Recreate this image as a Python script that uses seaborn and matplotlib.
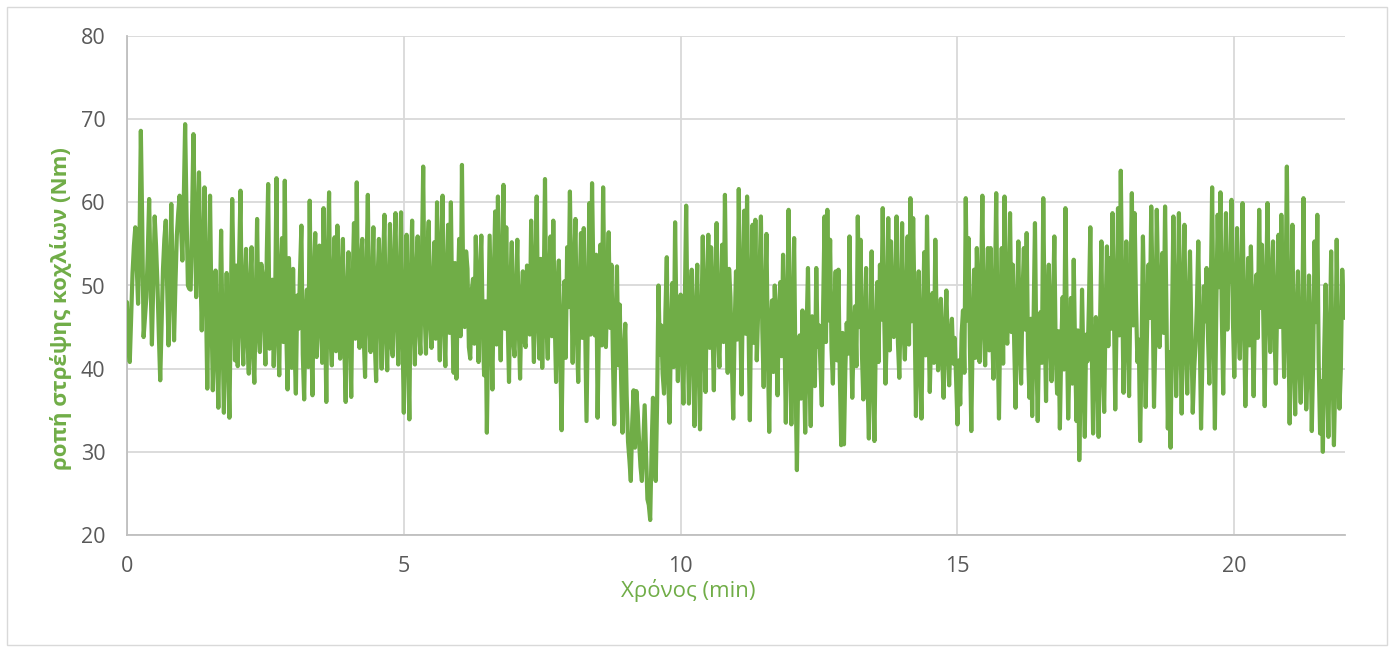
import numpy as np
import pandas as pd
import matplotlib
matplotlib.use("Agg")
import matplotlib.pyplot as plt
from matplotlib.patches import Rectangle
import seaborn as sns

# Screw torque log. Each minute holds 20 readings on the 3 s grid and
# 20 readings taken half-way between them (1.5 s offset).
torque_min00 = [48.0, 40.8, 51.5, 57.0, 47.8, 68.6, 43.8, 48.6, 60.4, 42.9,
                58.3, 50.2, 38.6, 52.0, 57.8, 42.8, 59.8, 43.4, 56.0, 60.8]
torque_mid00 = [42.5, 46.0, 54.8, 52.3, 55.0, 57.5, 46.2, 53.9, 51.0, 50.3,
                54.7, 44.1, 45.3, 55.6, 49.9, 51.4, 51.0, 50.2, 58.7, 57.4]
torque_min01 = [53.0, 69.4, 50.0, 49.5, 68.2, 48.6, 63.6, 44.6, 61.8, 37.6,
                60.8, 37.4, 51.8, 35.3, 56.6, 34.7, 51.5, 34.1, 60.4, 41.0]
torque_mid01 = [60.2, 58.8, 49.6, 58.1, 57.9, 55.4, 52.7, 53.5, 48.9, 49.5,
                47.2, 44.6, 42.0, 46.0, 44.3, 43.5, 41.9, 47.6, 51.2, 52.4]
torque_min02 = [40.3, 61.4, 40.5, 54.4, 39.4, 54.6, 38.3, 58.0, 42.0, 51.3,
                40.5, 62.2, 45.8, 40.3, 62.9, 39.2, 55.7, 62.6, 37.5, 47.0]
torque_mid02 = [52.8, 45.1, 49.7, 43.6, 50.2, 41.9, 47.5, 44.8, 52.6, 46.0,
                53.9, 42.4, 50.7, 47.9, 44.6, 51.5, 43.2, 45.0, 53.3, 40.1]
torque_min03 = [52.0, 37.0, 44.8, 57.2, 36.3, 49.5, 60.2, 36.8, 56.3, 44.6,
                52.1, 59.3, 36.0, 61.2, 40.4, 55.8, 57.2, 41.2, 55.6, 36.0]
torque_mid03 = [43.1, 48.8, 51.6, 41.7, 46.5, 40.2, 45.3, 50.9, 41.4, 54.8,
                40.7, 47.2, 52.4, 43.8, 50.6, 42.1, 46.9, 51.8, 42.7, 49.3]
torque_min04 = [54.0, 36.6, 57.5, 62.4, 42.5, 55.6, 39.0, 60.9, 42.0, 57.0,
                38.5, 55.6, 40.0, 58.5, 39.8, 57.4, 41.5, 58.7, 40.5, 58.8]
torque_mid04 = [44.7, 50.3, 43.6, 47.1, 52.9, 44.0, 51.2, 45.6, 49.8, 43.3,
                50.4, 46.7, 52.5, 44.2, 48.9, 42.8, 53.1, 45.9, 50.0, 44.6]
torque_min05 = [34.7, 56.1, 33.9, 57.8, 40.5, 55.9, 41.8, 64.3, 41.8, 57.7,
                42.5, 55.2, 60.0, 41.0, 60.8, 40.3, 57.3, 60.0, 39.5, 38.8]
torque_mid05 = [47.4, 42.3, 50.8, 46.2, 51.6, 44.9, 52.3, 47.0, 53.8, 45.5,
                49.7, 43.6, 48.4, 54.2, 45.1, 51.0, 44.3, 46.8, 52.7, 49.0]
torque_min06 = [55.6, 64.5, 45.0, 52.0, 41.2, 50.8, 55.9, 40.8, 56.0, 39.2,
                32.3, 56.0, 37.5, 58.9, 60.7, 41.0, 62.1, 57.0, 38.4, 55.2]
torque_mid06 = [43.9, 48.7, 54.1, 42.6, 49.3, 43.0, 46.4, 51.5, 45.2, 48.1,
                44.0, 46.6, 50.8, 42.9, 47.3, 52.6, 44.8, 46.0, 50.1, 43.4]
torque_min07 = [41.5, 55.5, 38.8, 51.7, 42.6, 50.2, 57.8, 40.8, 60.7, 41.2,
                40.1, 62.8, 41.2, 55.9, 57.8, 38.4, 53.0, 32.6, 50.5, 54.6]
torque_mid07 = [49.2, 45.3, 47.8, 43.5, 52.4, 44.1, 47.6, 52.0, 45.9, 53.2,
                48.5, 45.7, 51.3, 43.9, 46.1, 49.6, 42.2, 44.7, 41.3, 47.4]
torque_min08 = [61.3, 40.7, 58.0, 38.4, 56.3, 56.9, 33.7, 59.9, 62.3, 44.0,
                34.1, 54.9, 61.8, 42.6, 56.4, 52.5, 33.3, 52.3, 47.7, 32.3]
torque_mid08 = [49.8, 51.6, 44.2, 49.0, 43.7, 45.5, 46.8, 44.1, 50.6, 53.7,
                45.0, 42.8, 48.3, 50.1, 44.9, 42.0, 45.6, 40.4, 38.6, 41.9]
torque_min09 = [45.4, 31.2, 26.5, 37.4, 37.3, 31.2, 26.5, 35.6, 24.3, 21.8,
                36.5, 26.5, 50.0, 45.2, 37.0, 53.4, 33.5, 50.3, 57.6, 38.5]
torque_mid09 = [36.8, 29.0, 33.4, 30.5, 34.8, 28.2, 31.0, 29.9, 23.6, 30.2,
                29.4, 36.0, 41.7, 39.4, 46.8, 38.9, 44.6, 40.2, 45.3, 46.1]
torque_min10 = [48.9, 35.8, 59.6, 35.8, 51.9, 33.1, 52.5, 32.7, 55.9, 37.2,
                56.1, 54.6, 37.4, 57.5, 40.2, 54.9, 60.9, 39.5, 48.6, 34.0]
torque_mid10 = [42.0, 47.7, 44.1, 48.5, 41.6, 46.9, 40.8, 45.2, 43.7, 49.8,
                42.5, 45.0, 50.3, 44.6, 48.1, 43.2, 47.4, 52.0, 40.9, 44.8]
torque_min11 = [51.7, 61.6, 36.9, 59.0, 60.7, 33.8, 57.3, 57.9, 46.8, 58.3,
                37.8, 56.2, 32.4, 48.2, 50.0, 36.8, 50.4, 53.7, 33.5, 59.1]
torque_mid11 = [43.5, 46.8, 49.7, 44.2, 45.9, 48.6, 43.1, 41.0, 51.4, 44.7,
                47.5, 42.0, 45.3, 39.6, 43.8, 47.2, 41.5, 44.9, 46.4, 42.7]
torque_min12 = [33.3, 55.7, 27.8, 44.0, 47.0, 32.3, 52.1, 33.1, 44.8, 52.1,
                45.2, 35.6, 58.3, 59.1, 55.5, 38.2, 51.7, 51.9, 30.8, 30.9]
torque_mid12 = [46.0, 38.9, 40.1, 36.4, 41.2, 44.5, 39.8, 46.3, 37.9, 42.6,
                40.5, 47.9, 43.2, 45.8, 42.4, 46.7, 41.0, 39.2, 44.3, 40.0]
torque_min13 = [45.5, 55.9, 36.5, 47.5, 58.3, 55.5, 36.3, 52.1, 31.6, 54.1,
                31.3, 50.4, 52.5, 59.3, 38.2, 58.1, 55.3, 43.8, 58.3, 38.9]
torque_mid13 = [41.8, 44.2, 43.6, 40.3, 45.0, 41.7, 44.8, 38.9, 42.3, 39.6,
                43.5, 40.8, 45.9, 47.1, 44.4, 42.2, 46.5, 49.0, 43.1, 47.8]
torque_min14 = [57.5, 41.1, 55.9, 60.5, 58.1, 34.3, 51.7, 34.0, 54.0, 58.3,
                37.2, 49.1, 55.5, 39.8, 48.4, 36.5, 49.4, 38.0, 46.0, 43.7]
torque_mid14 = [44.6, 48.2, 42.9, 45.7, 47.0, 43.3, 40.9, 45.8, 41.6, 46.2,
                44.0, 40.7, 45.3, 43.9, 41.2, 44.5, 42.8, 44.1, 40.6, 38.8]
torque_min15 = [33.3, 35.7, 47.0, 60.5, 55.7, 32.5, 51.9, 54.5, 40.8, 60.8,
                40.4, 54.5, 54.5, 38.8, 61.1, 34.0, 54.5, 60.7, 43.0, 58.7]
torque_mid15 = [41.0, 44.2, 39.5, 45.8, 42.6, 44.0, 41.3, 46.9, 49.5, 45.1,
                47.8, 42.2, 44.9, 48.3, 43.7, 46.5, 40.6, 45.2, 50.1, 44.4]
torque_min16 = [52.5, 35.3, 55.3, 38.2, 54.5, 56.3, 36.5, 34.3, 57.5, 33.7,
                46.8, 60.5, 36.1, 52.5, 38.5, 55.9, 37.0, 32.8, 48.6, 59.3]
torque_mid16 = [43.0, 47.1, 42.4, 48.8, 44.7, 41.9, 46.0, 45.5, 42.3, 44.8,
                40.7, 45.9, 48.2, 43.6, 47.4, 41.8, 44.5, 42.6, 39.9, 45.0]
torque_min17 = [34.0, 48.5, 53.1, 33.7, 29.0, 49.5, 31.8, 40.9, 57.0, 32.2,
                46.2, 31.8, 55.3, 34.8, 54.7, 53.3, 58.7, 35.1, 59.3, 63.8]
torque_mid17 = [41.6, 38.2, 42.0, 44.6, 38.0, 40.3, 44.1, 47.9, 43.0, 39.5,
                41.9, 45.2, 40.6, 46.3, 42.7, 44.8, 47.6, 46.2, 44.0, 49.1]
torque_min18 = [37.1, 55.3, 36.7, 61.1, 58.7, 40.8, 31.3, 55.9, 35.4, 52.5,
                59.5, 35.4, 59.1, 42.6, 53.9, 59.5, 32.8, 30.5, 58.3, 36.7]
torque_mid18 = [46.4, 43.9, 49.8, 45.2, 48.0, 43.5, 41.6, 47.4, 44.9, 46.1,
                48.7, 43.8, 50.2, 47.1, 44.3, 46.8, 42.0, 45.5, 47.9, 44.6]
torque_min19 = [58.7, 34.6, 57.3, 37.0, 54.1, 34.7, 42.9, 55.3, 32.8, 49.9,
                52.1, 38.2, 61.8, 32.8, 58.5, 61.2, 37.0, 58.7, 53.7, 60.3]
torque_mid19 = [45.8, 48.5, 43.2, 46.9, 44.0, 39.8, 47.6, 44.5, 41.3, 45.7,
                43.9, 48.6, 45.1, 47.0, 49.8, 46.3, 48.9, 44.7, 50.5, 46.0]
torque_min20 = [39.0, 56.9, 41.2, 59.9, 35.5, 53.3, 54.7, 36.7, 51.3, 59.1,
                54.9, 35.5, 59.9, 42.0, 55.3, 38.2, 56.1, 58.5, 39.0, 64.3]
torque_mid20 = [47.5, 45.2, 49.9, 46.4, 44.1, 42.8, 45.6, 48.0, 43.7, 47.3,
                45.9, 49.2, 47.8, 50.6, 44.9, 47.7, 45.0, 49.3, 48.1, 46.6]
torque_min21 = [33.4, 57.3, 34.5, 51.7, 35.9, 60.5, 35.1, 51.2, 32.5, 55.3,
                58.5, 32.2, 30.0, 50.1, 31.8, 54.1, 30.8, 55.5, 35.2, 51.9]
torque_mid21 = [44.3, 41.8, 46.0, 40.5, 43.6, 42.9, 39.7, 44.2, 41.0, 45.6,
                40.8, 38.5, 42.3, 39.4, 43.1, 40.2, 38.9, 42.5, 40.0, 47.3]
torque_end = [46.1]

sample_step_min = 0.025
x_ticks = [0, 5, 10, 15, 20]
y_ticks = [20, 30, 40, 50, 60, 70, 80]
x_label = "Χρόνος (min)"
y_label = "ροπή στρέψης κοχλίων (Nm)"

grid_readings = [torque_min00, torque_min01, torque_min02, torque_min03, torque_min04,
                 torque_min05, torque_min06, torque_min07, torque_min08, torque_min09,
                 torque_min10, torque_min11, torque_min12, torque_min13, torque_min14,
                 torque_min15, torque_min16, torque_min17, torque_min18, torque_min19,
                 torque_min20, torque_min21]
half_readings = [torque_mid00, torque_mid01, torque_mid02, torque_mid03, torque_mid04,
                 torque_mid05, torque_mid06, torque_mid07, torque_mid08, torque_mid09,
                 torque_mid10, torque_mid11, torque_mid12, torque_mid13, torque_mid14,
                 torque_mid15, torque_mid16, torque_mid17, torque_mid18, torque_mid19,
                 torque_mid20, torque_mid21]

# merge the two reading streams in time order
torque = []
for on_grid, half_way in zip(grid_readings, half_readings):
    for a, b in zip(on_grid, half_way):
        torque.extend([a, b])
torque.extend(torque_end)

time_min = np.round(np.arange(len(torque)) * sample_step_min, 3)
df = pd.DataFrame({"time": time_min, "torque": torque})

GREEN = "#70AD47"
GRID = "#D9D9D9"
TICK = "#595959"

sns.set_style("white")
plt.rcParams["font.family"] = ["Open Sans", "DejaVu Sans"]

fig = plt.figure(figsize=(13.91, 6.49), dpi=100)
ax = fig.add_axes([127 / 1391, 1 - 535 / 649, (1345 - 127) / 1391, (535 - 36) / 649])

sns.lineplot(data=df, x="time", y="torque", ax=ax, color=GREEN, linewidth=3.0,
             solid_joinstyle="round", solid_capstyle="round", zorder=3)

ax.set_xlim(0, 22)
ax.set_ylim(20, 80)
ax.set_xticks(x_ticks)
ax.set_yticks(y_ticks)
ax.grid(True, color=GRID, linewidth=1.3, zorder=0)
ax.set_axisbelow(True)

for side in ["top", "right"]:
    ax.spines[side].set_visible(False)
for side in ["left", "bottom"]:
    ax.spines[side].set_color("#BFBFBF")
    ax.spines[side].set_linewidth(1.3)

ax.tick_params(axis="both", length=0, labelsize=15.5, colors=TICK)
ax.tick_params(axis="y", pad=15.5)
ax.tick_params(axis="x", pad=15)

ax.set_xlabel(x_label, color=GREEN, fontsize=16)
ax.set_ylabel(y_label, color=GREEN, fontsize=16, fontweight="bold")
ax.xaxis.set_label_coords(0.461, -0.088)
ax.yaxis.set_label_coords(-0.045, 0.453)

fig.patches.append(Rectangle((7 / 1391, 4 / 649), 1380 / 1391, 638 / 649,
                             transform=fig.transFigure, fill=False,
                             edgecolor=GRID, linewidth=1.0))

fig.savefig("out.png", dpi=100, facecolor="white")
